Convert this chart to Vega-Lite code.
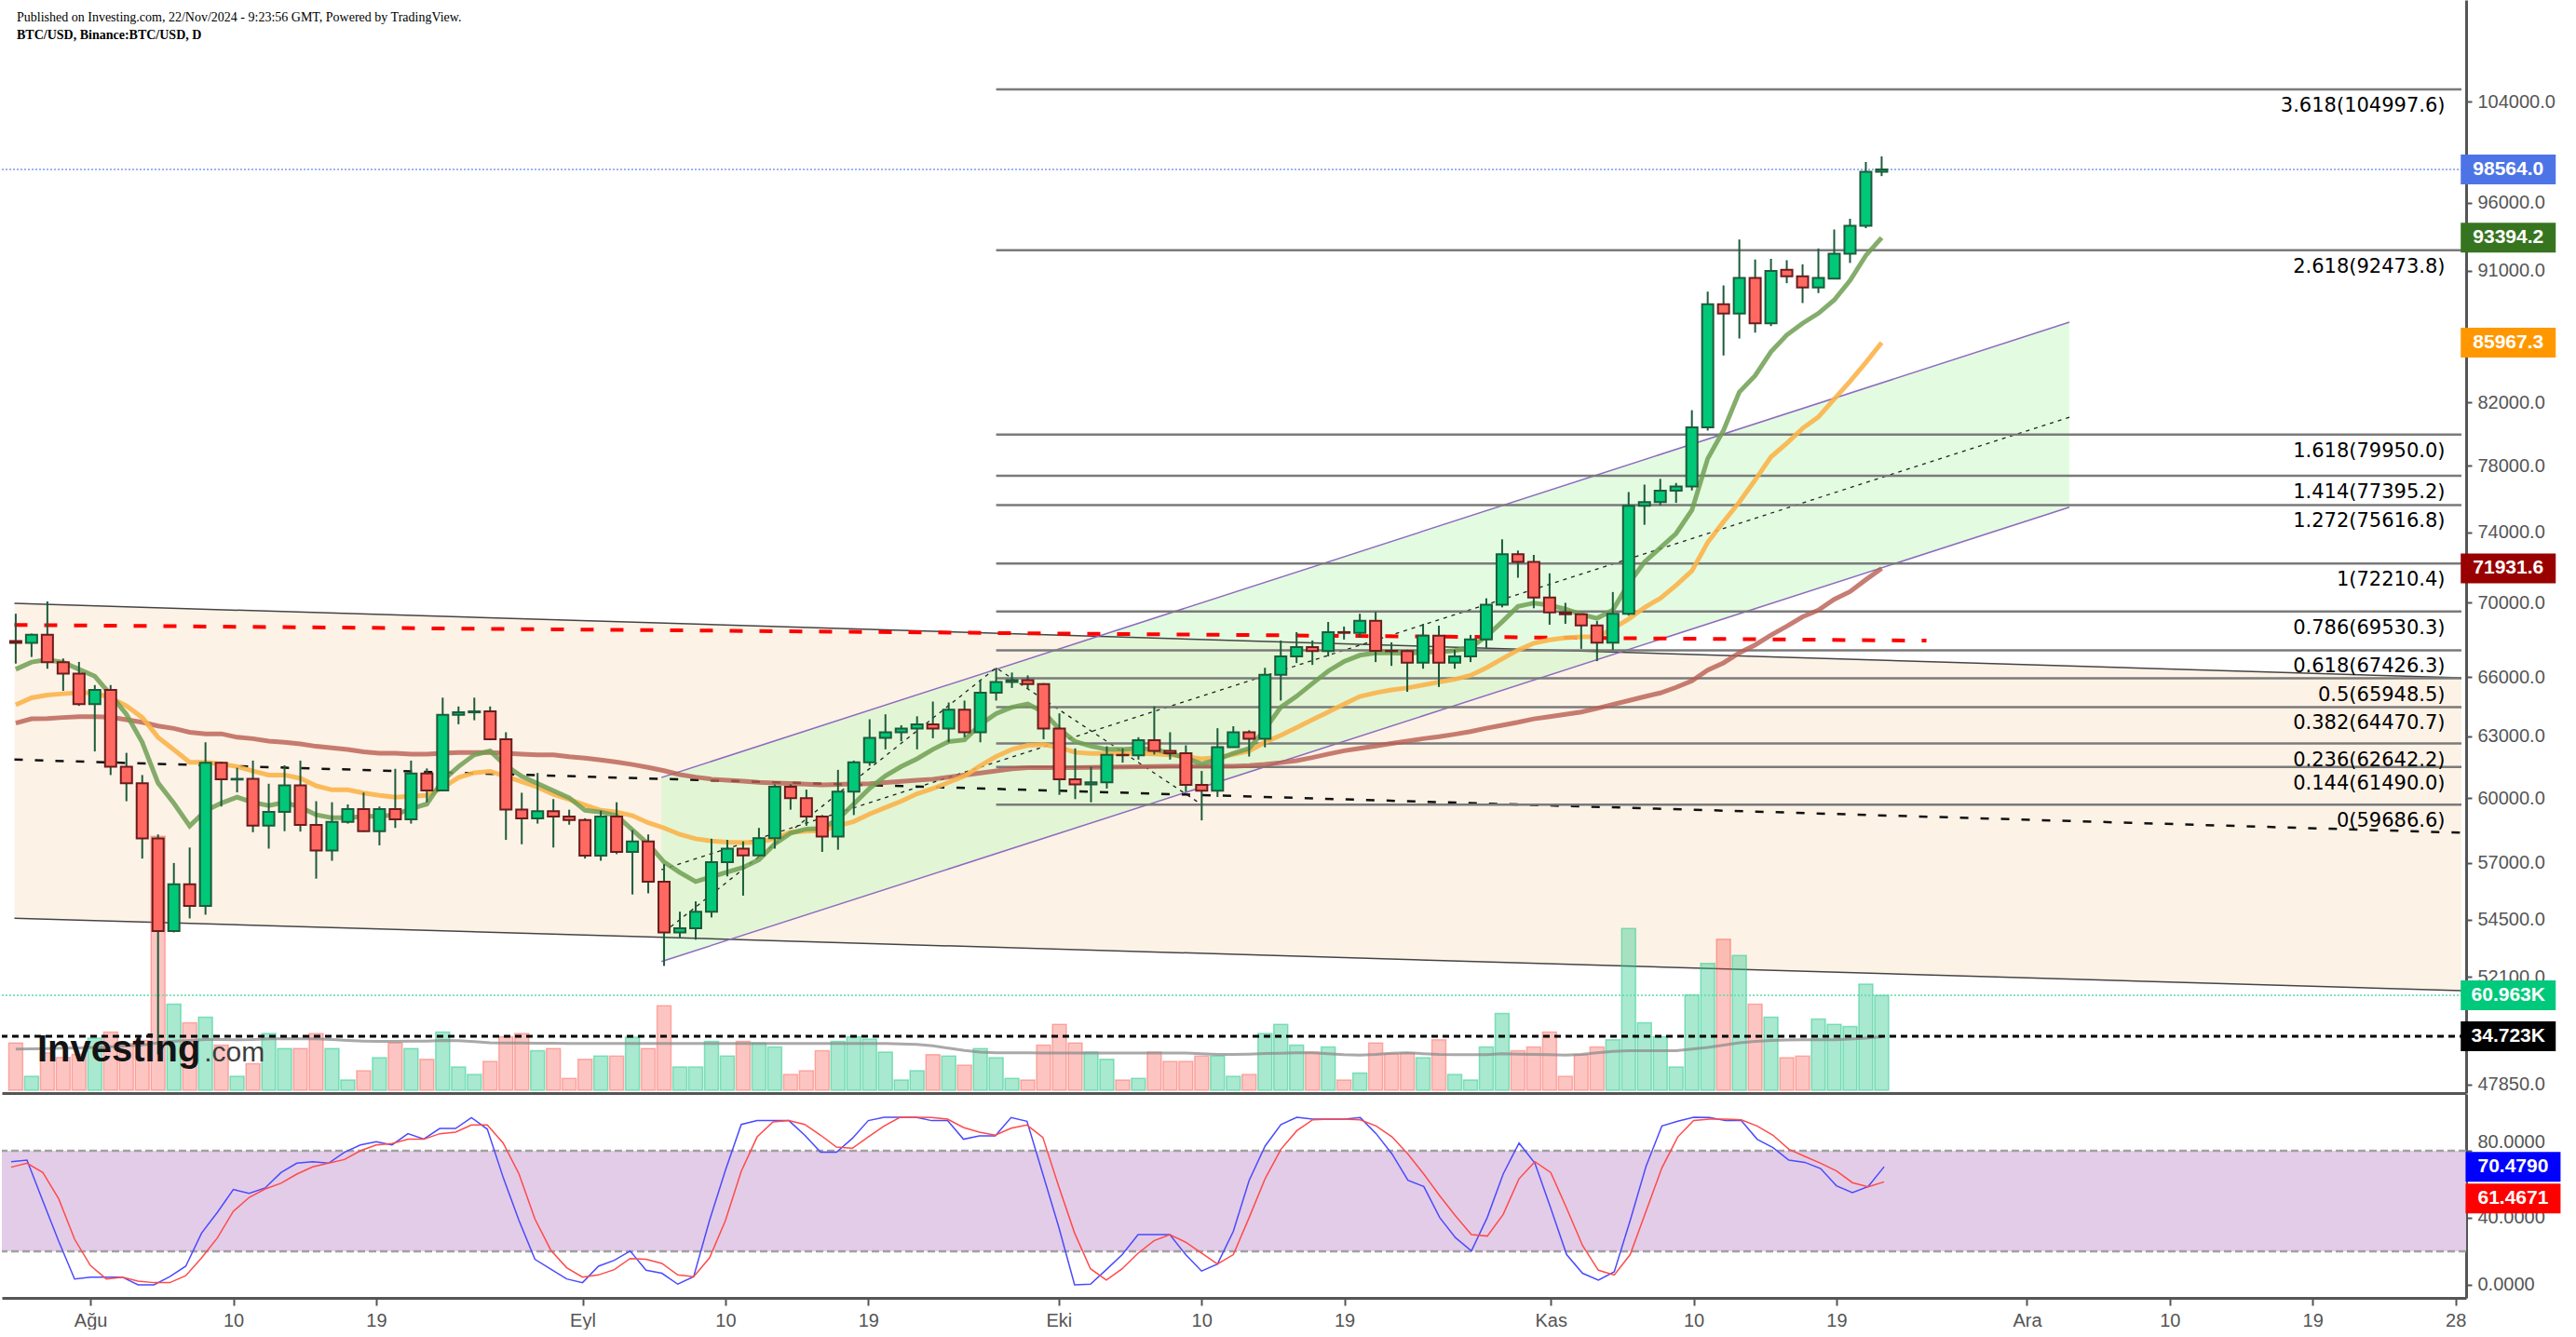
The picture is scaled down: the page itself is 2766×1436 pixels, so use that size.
{
"$schema":"https://vega.github.io/schema/vega-lite/v6.json",
"padding":0,
"background":"#ffffff",
"spacing":0,
"title":{"text":"Published on Investing.com, 22/Nov/2024 - 9:23:56 GMT, Powered by TradingView.","subtitle":"BTC/USD, Binance:BTC/USD, D","anchor":"start","frame":"group","orient":"top","offset":-45,"dx":16,"font":"Liberation Sans Narrow","fontSize":14,"fontWeight":"normal","color":"#000000","subtitleFont":"Liberation Sans Narrow","subtitleFontSize":14,"subtitleFontWeight":"bold","subtitleColor":"#000000","subtitlePadding":5},
"config":{"view":{"stroke":null},"axis":{"grid":false},"font":"Liberation Sans"},
"datasets":{
"bars":[
{"t":"2024-07-27","o":67920,"h":69400,"l":66720,"c":67820,"v":30.4,"ma1":66420,"ma2":64580,"ma3":63660,"sk":73.5,"sd":70.2,"m":26.4},
{"t":"2024-07-28","o":67820,"h":68320,"l":67070,"c":68260,"v":8.9,"ma1":66800,"ma2":64940,"ma3":63870,"sk":74.4,"sd":72.6,"m":26.6},
{"t":"2024-07-29","o":68260,"h":70080,"l":66450,"c":66790,"v":24,"ma1":66930,"ma2":65080,"ma3":63890,"sk":50,"sd":67,"m":26.8},
{"t":"2024-07-30","o":66790,"h":66990,"l":65300,"c":66200,"v":21,"ma1":66780,"ma2":65150,"ma3":63940,"sk":26,"sd":51.3,"m":27},
{"t":"2024-07-31","o":66200,"h":66810,"l":64530,"c":64620,"v":23,"ma1":66420,"ma2":65200,"ma3":63980,"sk":3.5,"sd":27.2,"m":27.2},
{"t":"2024-08-01","o":64620,"h":65600,"l":62250,"c":65350,"v":33.4,"ma1":66060,"ma2":65200,"ma3":63980,"sk":4.6,"sd":11.5,"m":27.5},
{"t":"2024-08-02","o":65350,"h":65600,"l":61100,"c":61500,"v":37.4,"ma1":65100,"ma2":64940,"ma3":63960,"sk":4.6,"sd":3.5,"m":28},
{"t":"2024-08-03","o":61500,"h":62180,"l":59850,"c":60700,"v":30,"ma1":64100,"ma2":64530,"ma3":63830,"sk":4.6,"sd":4.6,"m":28.5},
{"t":"2024-08-04","o":60700,"h":61100,"l":57200,"c":58120,"v":32,"ma1":62700,"ma2":63940,"ma3":63700,"sk":0,"sd":2.2,"m":29},
{"t":"2024-08-05","o":58120,"h":58300,"l":49000,"c":54020,"v":163,"ma1":60720,"ma2":62950,"ma3":63510,"sk":0,"sd":1.3,"m":30.5},
{"t":"2024-08-06","o":54020,"h":57000,"l":53960,"c":56050,"v":55.3,"ma1":59750,"ma2":62330,"ma3":63390,"sk":4.9,"sd":1.3,"m":31.5},
{"t":"2024-08-07","o":56050,"h":57700,"l":54560,"c":55100,"v":43.3,"ma1":58690,"ma2":61720,"ma3":63200,"sk":11.1,"sd":5.4,"m":32},
{"t":"2024-08-08","o":55100,"h":62700,"l":54720,"c":61700,"v":46.9,"ma1":59400,"ma2":61720,"ma3":63120,"sk":30.9,"sd":16.1,"m":32.5},
{"t":"2024-08-09","o":61700,"h":61750,"l":59600,"c":60900,"v":29,"ma1":59760,"ma2":61640,"ma3":63120,"sk":43.3,"sd":28.1,"m":32.5},
{"t":"2024-08-10","o":60880,"h":61450,"l":60270,"c":60920,"v":8.9,"ma1":60040,"ma2":61510,"ma3":62950,"sk":56.9,"sd":43.9,"m":32.4},
{"t":"2024-08-11","o":60920,"h":61800,"l":58400,"c":58710,"v":17.1,"ma1":59790,"ma2":61290,"ma3":62880,"sk":54.6,"sd":52.2,"m":32.5},
{"t":"2024-08-12","o":58710,"h":60680,"l":57650,"c":59350,"v":36.4,"ma1":59650,"ma2":61100,"ma3":62760,"sk":57.8,"sd":57.2,"m":33},
{"t":"2024-08-13","o":59350,"h":61570,"l":58450,"c":60600,"v":26.8,"ma1":59790,"ma2":61100,"ma3":62700,"sk":67,"sd":60.6,"m":33.2},
{"t":"2024-08-14","o":60600,"h":61800,"l":58430,"c":58740,"v":26.8,"ma1":59570,"ma2":60940,"ma3":62620,"sk":72.6,"sd":66.1,"m":33},
{"t":"2024-08-15","o":58740,"h":59850,"l":56300,"c":57560,"v":36.4,"ma1":59210,"ma2":60580,"ma3":62500,"sk":73.5,"sd":70.4,"m":33},
{"t":"2024-08-16","o":57560,"h":59800,"l":57100,"c":58880,"v":26.8,"ma1":59070,"ma2":60390,"ma3":62420,"sk":72.6,"sd":72.6,"m":32.6},
{"t":"2024-08-17","o":58880,"h":59700,"l":58800,"c":59480,"v":6.6,"ma1":59070,"ma2":60390,"ma3":62340,"sk":79.1,"sd":74.8,"m":32},
{"t":"2024-08-18","o":59480,"h":60260,"l":58420,"c":58450,"v":12.5,"ma1":59140,"ma2":60240,"ma3":62230,"sk":83.5,"sd":80,"m":31.6},
{"t":"2024-08-19","o":58450,"h":59600,"l":57800,"c":59480,"v":20.9,"ma1":59140,"ma2":60130,"ma3":62160,"sk":85.4,"sd":83.5,"m":31.4},
{"t":"2024-08-20","o":59480,"h":61400,"l":58600,"c":59000,"v":30.4,"ma1":59210,"ma2":60040,"ma3":62160,"sk":83.5,"sd":84.3,"m":31.4},
{"t":"2024-08-21","o":59000,"h":61800,"l":58800,"c":61170,"v":26.8,"ma1":59500,"ma2":60080,"ma3":62110,"sk":90.2,"sd":86.9,"m":31.6},
{"t":"2024-08-22","o":61170,"h":61420,"l":59800,"c":60360,"v":19.9,"ma1":59720,"ma2":60130,"ma3":62110,"sk":87,"sd":86.9,"m":31.6},
{"t":"2024-08-23","o":60360,"h":64950,"l":60350,"c":64080,"v":37.4,"ma1":60830,"ma2":60490,"ma3":62160,"sk":93.3,"sd":90.2,"m":32},
{"t":"2024-08-24","o":64080,"h":64500,"l":63600,"c":64200,"v":14.9,"ma1":61510,"ma2":60980,"ma3":62200,"sk":93.3,"sd":91.1,"m":31.8},
{"t":"2024-08-25","o":64200,"h":64950,"l":63800,"c":64250,"v":10.1,"ma1":62080,"ma2":61210,"ma3":62200,"sk":99.8,"sd":95.4,"m":31.2},
{"t":"2024-08-26","o":64250,"h":64500,"l":62800,"c":62850,"v":18.5,"ma1":62270,"ma2":61280,"ma3":62200,"sk":92.9,"sd":95.4,"m":30.5},
{"t":"2024-08-27","o":62850,"h":63200,"l":58050,"c":59460,"v":34.4,"ma1":61550,"ma2":61040,"ma3":62160,"sk":64.1,"sd":84.6,"m":30.4},
{"t":"2024-08-28","o":59460,"h":60250,"l":57850,"c":59040,"v":36.4,"ma1":61040,"ma2":60780,"ma3":62120,"sk":38.3,"sd":66.1,"m":30.4},
{"t":"2024-08-29","o":59040,"h":61200,"l":58800,"c":59380,"v":25.4,"ma1":60690,"ma2":60520,"ma3":62080,"sk":15.2,"sd":39.3,"m":30.2},
{"t":"2024-08-30","o":59380,"h":59950,"l":57700,"c":59130,"v":26.8,"ma1":60350,"ma2":60180,"ma3":62080,"sk":9.3,"sd":20.7,"m":30.2},
{"t":"2024-08-31","o":59130,"h":59450,"l":58750,"c":58970,"v":7.6,"ma1":60010,"ma2":59930,"ma3":61990,"sk":3.5,"sd":10.2,"m":30},
{"t":"2024-09-01","o":58970,"h":59050,"l":57200,"c":57330,"v":19.9,"ma1":59420,"ma2":59670,"ma3":61920,"sk":1.3,"sd":4.6,"m":30},
{"t":"2024-09-02","o":57330,"h":59400,"l":57100,"c":59130,"v":21.9,"ma1":59340,"ma2":59420,"ma3":61830,"sk":11.1,"sd":5.9,"m":30},
{"t":"2024-09-03","o":59130,"h":59800,"l":57400,"c":57500,"v":21.9,"ma1":59170,"ma2":59340,"ma3":61730,"sk":14.6,"sd":9.1,"m":30},
{"t":"2024-09-04","o":57500,"h":58500,"l":55600,"c":57980,"v":34,"ma1":58510,"ma2":59170,"ma3":61610,"sk":20.2,"sd":15.7,"m":30},
{"t":"2024-09-05","o":57980,"h":58300,"l":55650,"c":56160,"v":26.8,"ma1":57860,"ma2":58840,"ma3":61470,"sk":8.7,"sd":15.2,"m":30},
{"t":"2024-09-06","o":56160,"h":56950,"l":52550,"c":53960,"v":54.3,"ma1":57040,"ma2":58600,"ma3":61310,"sk":6.9,"sd":12.8,"m":30},
{"t":"2024-09-07","o":53960,"h":54850,"l":53750,"c":54140,"v":14.9,"ma1":56570,"ma2":58300,"ma3":61120,"sk":0.4,"sd":5.9,"m":30},
{"t":"2024-09-08","o":54140,"h":55300,"l":53650,"c":54850,"v":14.9,"ma1":56170,"ma2":58100,"ma3":61000,"sk":4.9,"sd":4.9,"m":30},
{"t":"2024-09-09","o":54850,"h":58100,"l":54600,"c":57040,"v":31.4,"ma1":56380,"ma2":58000,"ma3":60900,"sk":38.5,"sd":16.1,"m":30},
{"t":"2024-09-10","o":57040,"h":58050,"l":56400,"c":57650,"v":21.9,"ma1":56590,"ma2":57950,"ma3":60850,"sk":68.3,"sd":38.3,"m":30},
{"t":"2024-09-11","o":57650,"h":57980,"l":55550,"c":57340,"v":31.4,"ma1":56800,"ma2":57920,"ma3":60800,"sk":95.7,"sd":67.8,"m":30},
{"t":"2024-09-12","o":57340,"h":58600,"l":57300,"c":58130,"v":30.4,"ma1":57150,"ma2":57950,"ma3":60750,"sk":98,"sd":88.3,"m":30},
{"t":"2024-09-13","o":58130,"h":60650,"l":57650,"c":60540,"v":27.8,"ma1":57860,"ma2":58100,"ma3":60720,"sk":98,"sd":97.2,"m":30},
{"t":"2024-09-14","o":60540,"h":60650,"l":59450,"c":59990,"v":10.1,"ma1":58360,"ma2":58410,"ma3":60690,"sk":98,"sd":98,"m":30},
{"t":"2024-09-15","o":59990,"h":60400,"l":58700,"c":59130,"v":12.5,"ma1":58550,"ma2":58450,"ma3":60660,"sk":89.3,"sd":95.7,"m":30},
{"t":"2024-09-16","o":59130,"h":59200,"l":57500,"c":58200,"v":25.4,"ma1":58580,"ma2":58480,"ma3":60630,"sk":79.1,"sd":89.3,"m":30},
{"t":"2024-09-17","o":58200,"h":61350,"l":57600,"c":60300,"v":31.4,"ma1":59010,"ma2":58700,"ma3":60650,"sk":79.1,"sd":82.2,"m":30},
{"t":"2024-09-18","o":60300,"h":61800,"l":59200,"c":61720,"v":34.4,"ma1":59720,"ma2":58900,"ma3":60670,"sk":87.4,"sd":81.5,"m":30},
{"t":"2024-09-19","o":61720,"h":63850,"l":61550,"c":62920,"v":32.8,"ma1":60460,"ma2":59250,"ma3":60680,"sk":98,"sd":88.3,"m":30},
{"t":"2024-09-20","o":62920,"h":64100,"l":62350,"c":63200,"v":24.5,"ma1":61060,"ma2":59550,"ma3":60740,"sk":100,"sd":94.8,"m":30},
{"t":"2024-09-21","o":63200,"h":63550,"l":62750,"c":63380,"v":6.6,"ma1":61510,"ma2":59850,"ma3":60790,"sk":100,"sd":100,"m":29.8},
{"t":"2024-09-22","o":63380,"h":64000,"l":62350,"c":63590,"v":12.5,"ma1":61890,"ma2":60200,"ma3":60850,"sk":100,"sd":100,"m":29.5},
{"t":"2024-09-23","o":63590,"h":64750,"l":62900,"c":63380,"v":22.9,"ma1":62350,"ma2":60450,"ma3":60900,"sk":98,"sd":99.8,"m":28.5},
{"t":"2024-09-24","o":63380,"h":64700,"l":62700,"c":64330,"v":21.9,"ma1":62740,"ma2":60750,"ma3":61000,"sk":98,"sd":98.9,"m":27},
{"t":"2024-09-25","o":64330,"h":64800,"l":62950,"c":63200,"v":16.1,"ma1":62820,"ma2":61050,"ma3":61100,"sk":86.9,"sd":93.9,"m":25.5},
{"t":"2024-09-26","o":63200,"h":65850,"l":62700,"c":65200,"v":26.8,"ma1":63590,"ma2":61550,"ma3":61200,"sk":88.9,"sd":91.1,"m":24.5},
{"t":"2024-09-27","o":65200,"h":66500,"l":64800,"c":65760,"v":20.9,"ma1":64140,"ma2":62000,"ma3":61300,"sk":88.9,"sd":89.3,"m":24},
{"t":"2024-09-28","o":65760,"h":66250,"l":65450,"c":65860,"v":7.6,"ma1":64460,"ma2":62350,"ma3":61400,"sk":99.8,"sd":93.5,"m":24},
{"t":"2024-09-29","o":65860,"h":66100,"l":65400,"c":65650,"v":6.6,"ma1":64620,"ma2":62550,"ma3":61460,"sk":97.6,"sd":95.4,"m":24},
{"t":"2024-09-30","o":65650,"h":65700,"l":62850,"c":63380,"v":29,"ma1":64220,"ma2":62580,"ma3":61460,"sk":66.1,"sd":88,"m":23.9},
{"t":"2024-10-01","o":63380,"h":64150,"l":60150,"c":60900,"v":42.3,"ma1":63350,"ma2":62450,"ma3":61460,"sk":34.6,"sd":58.7,"m":23.9},
{"t":"2024-10-02","o":60900,"h":62400,"l":59950,"c":60650,"v":30.4,"ma1":62740,"ma2":62200,"ma3":61460,"sk":0,"sd":30.9,"m":23.9},
{"t":"2024-10-03","o":60650,"h":61500,"l":59800,"c":60750,"v":24.5,"ma1":62510,"ma2":62150,"ma3":61470,"sk":0.4,"sd":9.6,"m":23.9},
{"t":"2024-10-04","o":60750,"h":62500,"l":60450,"c":62080,"v":19.9,"ma1":62350,"ma2":62150,"ma3":61480,"sk":9.1,"sd":2.8,"m":23.9},
{"t":"2024-10-05","o":62080,"h":62400,"l":61700,"c":62060,"v":6.6,"ma1":62350,"ma2":62150,"ma3":61490,"sk":18,"sd":9.6,"m":23.9},
{"t":"2024-10-06","o":62060,"h":62950,"l":61850,"c":62800,"v":7.6,"ma1":62400,"ma2":62150,"ma3":61500,"sk":30,"sd":18.9,"m":23.9},
{"t":"2024-10-07","o":62800,"h":64500,"l":62100,"c":62280,"v":24.5,"ma1":62350,"ma2":62130,"ma3":61510,"sk":30,"sd":26.3,"m":23.9},
{"t":"2024-10-08","o":62280,"h":63200,"l":61850,"c":62160,"v":18.5,"ma1":62160,"ma2":62080,"ma3":61520,"sk":30,"sd":30,"m":23.9},
{"t":"2024-10-09","o":62160,"h":62550,"l":60300,"c":60630,"v":18.5,"ma1":61930,"ma2":61990,"ma3":61520,"sk":18,"sd":25.4,"m":23.9},
{"t":"2024-10-10","o":60630,"h":61300,"l":58950,"c":60350,"v":21.9,"ma1":61630,"ma2":61890,"ma3":61520,"sk":8.2,"sd":18.9,"m":23.5},
{"t":"2024-10-11","o":60350,"h":63400,"l":60050,"c":62460,"v":21.9,"ma1":61860,"ma2":61950,"ma3":61530,"sk":12.4,"sd":12.4,"m":23},
{"t":"2024-10-12","o":62460,"h":63500,"l":62450,"c":63200,"v":8.9,"ma1":62160,"ma2":62100,"ma3":61530,"sk":31.9,"sd":18,"m":23},
{"t":"2024-10-13","o":63200,"h":63300,"l":62000,"c":62870,"v":10.1,"ma1":62400,"ma2":62270,"ma3":61560,"sk":62.4,"sd":40.2,"m":23.2},
{"t":"2024-10-14","o":62870,"h":66500,"l":62450,"c":66130,"v":36.4,"ma1":63350,"ma2":62700,"ma3":61620,"sk":82.8,"sd":63.3,"m":23.6},
{"t":"2024-10-15","o":66130,"h":67950,"l":64800,"c":67100,"v":42.3,"ma1":64460,"ma2":63050,"ma3":61700,"sk":95.7,"sd":80.9,"m":23.8},
{"t":"2024-10-16","o":67100,"h":68400,"l":66750,"c":67600,"v":29,"ma1":65020,"ma2":63430,"ma3":61800,"sk":100,"sd":92,"m":24},
{"t":"2024-10-17","o":67600,"h":67950,"l":66650,"c":67380,"v":24.5,"ma1":65680,"ma2":63830,"ma3":61950,"sk":98.9,"sd":98.5,"m":24},
{"t":"2024-10-18","o":67380,"h":68950,"l":67100,"c":68400,"v":27.8,"ma1":66330,"ma2":64220,"ma3":62120,"sk":98.9,"sd":98.9,"m":23.5},
{"t":"2024-10-19","o":68400,"h":68700,"l":68000,"c":68360,"v":6.6,"ma1":66830,"ma2":64620,"ma3":62280,"sk":98.9,"sd":98.9,"m":22.8},
{"t":"2024-10-20","o":68360,"h":69400,"l":68100,"c":69020,"v":11.1,"ma1":67160,"ma2":65010,"ma3":62400,"sk":99.8,"sd":98.5,"m":22.5},
{"t":"2024-10-21","o":69020,"h":69500,"l":66800,"c":67400,"v":30.4,"ma1":67280,"ma2":65200,"ma3":62520,"sk":90.2,"sd":94.8,"m":23},
{"t":"2024-10-22","o":67400,"h":67850,"l":66600,"c":67380,"v":23.5,"ma1":67280,"ma2":65350,"ma3":62640,"sk":78.1,"sd":88.3,"m":23.8},
{"t":"2024-10-23","o":67380,"h":67450,"l":65250,"c":66770,"v":24,"ma1":67250,"ma2":65450,"ma3":62760,"sk":62.4,"sd":78.1,"m":24},
{"t":"2024-10-24","o":66770,"h":68850,"l":66450,"c":68210,"v":20.9,"ma1":67330,"ma2":65600,"ma3":62880,"sk":58.7,"sd":66.1,"m":23.5},
{"t":"2024-10-25","o":68210,"h":68750,"l":65500,"c":66770,"v":32.4,"ma1":67330,"ma2":65750,"ma3":62980,"sk":40.2,"sd":53.2,"m":23},
{"t":"2024-10-26","o":66770,"h":67450,"l":66450,"c":67100,"v":10.1,"ma1":67410,"ma2":65900,"ma3":63100,"sk":28.1,"sd":41.1,"m":22.9},
{"t":"2024-10-27","o":67100,"h":68250,"l":66800,"c":68010,"v":6.6,"ma1":67580,"ma2":66100,"ma3":63230,"sk":20.2,"sd":30,"m":22.9},
{"t":"2024-10-28","o":68010,"h":70250,"l":67550,"c":69900,"v":27.8,"ma1":68170,"ma2":66500,"ma3":63400,"sk":40.2,"sd":29.1,"m":22.8},
{"t":"2024-10-29","o":69900,"h":73600,"l":69750,"c":72740,"v":49.3,"ma1":68960,"ma2":66970,"ma3":63550,"sk":66.1,"sd":42,"m":23.5},
{"t":"2024-10-30","o":72740,"h":72950,"l":71400,"c":72300,"v":25.4,"ma1":69800,"ma2":67440,"ma3":63700,"sk":84.6,"sd":63.3,"m":23.2},
{"t":"2024-10-31","o":72300,"h":72700,"l":69700,"c":70300,"v":27.8,"ma1":69990,"ma2":67800,"ma3":63870,"sk":72.6,"sd":73.5,"m":23},
{"t":"2024-11-01","o":70300,"h":71650,"l":68800,"c":69470,"v":37.4,"ma1":69870,"ma2":67980,"ma3":63980,"sk":45.7,"sd":67,"m":22.8},
{"t":"2024-11-02","o":69470,"h":70000,"l":68850,"c":69370,"v":8.9,"ma1":69660,"ma2":68090,"ma3":64100,"sk":18,"sd":45.7,"m":22.5},
{"t":"2024-11-03","o":69370,"h":69400,"l":67500,"c":68760,"v":22.9,"ma1":69360,"ma2":68140,"ma3":64220,"sk":6.9,"sd":23.5,"m":23},
{"t":"2024-11-04","o":68760,"h":69000,"l":66850,"c":67830,"v":27.8,"ma1":69150,"ma2":68140,"ma3":64400,"sk":2.8,"sd":8.7,"m":24},
{"t":"2024-11-05","o":67830,"h":70600,"l":67450,"c":69400,"v":32.4,"ma1":69600,"ma2":68590,"ma3":64600,"sk":7.8,"sd":5.9,"m":25},
{"t":"2024-11-06","o":69400,"h":76400,"l":69300,"c":75580,"v":103.8,"ma1":71080,"ma2":69110,"ma3":64800,"sk":38.3,"sd":18,"m":25.4},
{"t":"2024-11-07","o":75580,"h":76850,"l":74450,"c":75800,"v":43.3,"ma1":72290,"ma2":69740,"ma3":65000,"sk":70.7,"sd":43.9,"m":25.4},
{"t":"2024-11-08","o":75800,"h":77200,"l":75600,"c":76480,"v":34.4,"ma1":73110,"ma2":70250,"ma3":65190,"sk":94.8,"sd":69.8,"m":25.4},
{"t":"2024-11-09","o":76480,"h":76950,"l":75750,"c":76740,"v":14.9,"ma1":73940,"ma2":70980,"ma3":65480,"sk":97.6,"sd":88.3,"m":25.4},
{"t":"2024-11-10","o":76740,"h":81500,"l":76500,"c":80410,"v":61.2,"ma1":75310,"ma2":71790,"ma3":65820,"sk":100,"sd":98.1,"m":26.5},
{"t":"2024-11-11","o":80410,"h":89500,"l":80200,"c":88610,"v":81.5,"ma1":78440,"ma2":73420,"ma3":66380,"sk":99.8,"sd":98.9,"m":27.5},
{"t":"2024-11-12","o":88610,"h":89940,"l":85100,"c":87960,"v":97,"ma1":80220,"ma2":74630,"ma3":66760,"sk":98.1,"sd":98.9,"m":29},
{"t":"2024-11-13","o":87960,"h":93260,"l":86250,"c":90470,"v":86.5,"ma1":82680,"ma2":75800,"ma3":67290,"sk":98.1,"sd":98.5,"m":30.5},
{"t":"2024-11-14","o":90470,"h":91800,"l":86650,"c":87290,"v":55.3,"ma1":83760,"ma2":77130,"ma3":67710,"sk":86.9,"sd":94.8,"m":31.4},
{"t":"2024-11-15","o":87290,"h":91850,"l":87100,"c":90980,"v":46.9,"ma1":85350,"ma2":78550,"ma3":68240,"sk":81.9,"sd":89.3,"m":32},
{"t":"2024-11-16","o":91060,"h":91750,"l":90100,"c":90600,"v":20.9,"ma1":86490,"ma2":79400,"ma3":68720,"sk":74.4,"sd":80.9,"m":32.2},
{"t":"2024-11-17","o":90600,"h":91450,"l":88700,"c":89790,"v":21.9,"ma1":87290,"ma2":80340,"ma3":69230,"sk":73.1,"sd":76.7,"m":32.4},
{"t":"2024-11-18","o":89790,"h":92600,"l":89400,"c":90470,"v":45.7,"ma1":87980,"ma2":81070,"ma3":69600,"sk":69.4,"sd":72.6,"m":32.4},
{"t":"2024-11-19","o":90420,"h":94000,"l":90400,"c":92220,"v":42.3,"ma1":88910,"ma2":82220,"ma3":70190,"sk":59.1,"sd":68,"m":32.4},
{"t":"2024-11-20","o":92220,"h":94800,"l":91550,"c":94270,"v":41,"ma1":90290,"ma2":83380,"ma3":70620,"sk":55,"sd":61,"m":32.8},
{"t":"2024-11-21","o":94270,"h":99150,"l":94100,"c":98390,"v":68.2,"ma1":92090,"ma2":84630,"ma3":71290,"sk":58.7,"sd":58.5,"m":33.5},
{"t":"2024-11-22","o":98390,"h":99590,"l":98050,"c":98564,"v":60.963,"ma1":93394.2,"ma2":85967.3,"ma3":71931.6,"sk":70.479,"sd":61.4671,"m":34.4}
],
"fib":[{"lbl":"3.618(104997.6)","p":104997.6},{"lbl":"2.618(92473.8)","p":92473.8},{"lbl":"1.618(79950.0)","p":79950},{"lbl":"1.414(77395.2)","p":77395.2},{"lbl":"1.272(75616.8)","p":75616.8},{"lbl":"1(72210.4)","p":72210.4},{"lbl":"0.786(69530.3)","p":69530.3},{"lbl":"0.618(67426.3)","p":67426.3},{"lbl":"0.5(65948.5)","p":65948.5},{"lbl":"0.382(64470.7)","p":64470.7},{"lbl":"0.236(62642.2)","p":62642.2},{"lbl":"0.144(61490.0)","p":61490},{"lbl":"0(59686.6)","p":59686.6}],
"beige":[{"t":"2024-07-26T22:00:00Z","hi":69970,"lo":54570,"mid":61850},{"t":"2024-12-28T16:00:00Z","hi":65970,"lo":51530,"mid":58380}],
"grn":[{"t":"2024-09-05T20:00:00Z","hi":60980,"lo":52730,"mid":56700},{"t":"2024-12-03T21:00:00Z","hi":87370,"lo":75490,"mid":81050}],
"reddash":[{"t":"2024-07-26T22:00:00Z","p":68790},{"t":"2024-11-24T20:00:00Z","p":67940}],
"abc":[{"t":"2024-09-06T00:00:00Z","p":53970},{"t":"2024-09-27T00:00:00Z","p":66500},{"t":"2024-10-10T00:00:00Z","p":59690}],
"pbox":[{"s":"last","val":98564,"txt":"98564.0"},{"s":"ma1","val":93394.2,"txt":"93394.2"},{"s":"ma2","val":85967.3,"txt":"85967.3"},{"s":"ma3","val":71931.6,"txt":"71931.6"}],
"vbox":[{"s":"vol","val":60.963,"txt":"60.963K"},{"s":"lvl","val":34.723,"txt":"34.723K"}],
"sbox":[{"s":"k","val":70.479,"txt":"70.4790"},{"s":"d","val":61.4671,"txt":"61.4671"}],
"sband":[{"top":80,"bot":20}],
"logo":[{"txt":"Investing","p":48728}],
"logo2":[{"txt":".com","p":48728}]
},
"vconcat":[
{"width":2646,"height":1174,
"resolve":{"scale":{"y":"independent"}},
"layer":[
{"layer":[
{"data":{"name":"beige"},"mark":{"type":"area","color":"#fdf2e6","opacity":1},"encoding":{"x":{"field":"t","type":"temporal","scale":{"type":"utc","domain":[{"year":2024,"month":7,"date":26,"hours":10,"utc":true},{"year":2024,"month":12,"date":28,"hours":16,"utc":true}]},"axis":{"title":null,"labels":false,"ticks":false,"domain":true,"domainColor":"#555555","domainWidth":3,"grid":false}},"y":{"field":"hi","type":"quantitative","scale":{"type":"log","domain":[47530,112680],"nice":false},"axis":null},"y2":{"field":"lo"}}},
{"data":{"name":"grn"},"mark":{"type":"area","color":"#c7f9c3","opacity":0.5},"encoding":{"x":{"field":"t","type":"temporal","title":null},"y":{"field":"hi","type":"quantitative","scale":{"type":"log","domain":[47530,112680],"nice":false},"axis":null},"y2":{"field":"lo"}}},
{"data":{"name":"beige"},"mark":{"type":"line","color":"#444444","strokeWidth":1.5},"encoding":{"x":{"field":"t","type":"temporal","title":null},"y":{"field":"hi","type":"quantitative","scale":{"type":"log","domain":[47530,112680],"nice":false},"axis":null}}},
{"data":{"name":"beige"},"mark":{"type":"line","color":"#444444","strokeWidth":1.5},"encoding":{"x":{"field":"t","type":"temporal","title":null},"y":{"field":"lo","type":"quantitative","scale":{"type":"log","domain":[47530,112680],"nice":false},"axis":null}}},
{"data":{"name":"grn"},"mark":{"type":"line","color":"#8e6bbf","strokeWidth":1.5},"encoding":{"x":{"field":"t","type":"temporal","title":null},"y":{"field":"hi","type":"quantitative","scale":{"type":"log","domain":[47530,112680],"nice":false},"axis":null}}},
{"data":{"name":"grn"},"mark":{"type":"line","color":"#8e6bbf","strokeWidth":1.5},"encoding":{"x":{"field":"t","type":"temporal","title":null},"y":{"field":"lo","type":"quantitative","scale":{"type":"log","domain":[47530,112680],"nice":false},"axis":null}}},
{"data":{"name":"grn"},"mark":{"type":"line","color":"#222222","strokeWidth":1.3,"strokeDash":[4,5]},"encoding":{"x":{"field":"t","type":"temporal","title":null},"y":{"field":"mid","type":"quantitative","scale":{"type":"log","domain":[47530,112680],"nice":false},"axis":null}}},
{"data":{"name":"beige"},"mark":{"type":"line","color":"#111111","strokeWidth":2.5,"strokeDash":[9,13]},"encoding":{"x":{"field":"t","type":"temporal","title":null},"y":{"field":"mid","type":"quantitative","scale":{"type":"log","domain":[47530,112680],"nice":false},"axis":null}}},
{"data":{"name":"reddash"},"mark":{"type":"line","color":"#ff0000","strokeWidth":4,"strokeDash":[14,18]},"encoding":{"x":{"field":"t","type":"temporal","title":null},"y":{"field":"p","type":"quantitative","scale":{"type":"log","domain":[47530,112680],"nice":false},"axis":null}}},
{"data":{"name":"abc"},"mark":{"type":"line","color":"#222222","strokeWidth":1.3,"strokeDash":[4,5]},"encoding":{"x":{"field":"t","type":"temporal","title":null},"y":{"field":"p","type":"quantitative","scale":{"type":"log","domain":[47530,112680],"nice":false},"axis":null}}},
{"data":{"name":"fib"},"mark":{"type":"rule","color":"#7a7a7a","strokeWidth":2.5},"encoding":{"x":{"datum":{"year":2024,"month":9,"date":27,"utc":true},"type":"temporal","title":null},"x2":{"datum":{"year":2024,"month":12,"date":28,"hours":16,"utc":true}},"y":{"field":"p","type":"quantitative","scale":{"type":"log","domain":[47530,112680],"nice":false},"axis":null}}},
{"data":{"name":"fib"},"mark":{"type":"text","align":"right","baseline":"top","dy":7,"font":"DejaVu Sans","fontSize":21,"color":"#000000"},"encoding":{"x":{"datum":{"year":2024,"month":12,"date":27,"hours":15,"minutes":20,"utc":true},"type":"temporal","title":null},"y":{"field":"p","type":"quantitative","scale":{"type":"log","domain":[47530,112680],"nice":false},"axis":null},"text":{"field":"lbl"}}},
{"data":{"name":"pbox"},"transform":[{"filter":"datum.s == 'last'"}],"mark":{"type":"rule","color":"#7e9cf0","strokeWidth":1.5,"strokeDash":[2,2]},"encoding":{"y":{"field":"val","type":"quantitative","scale":{"type":"log","domain":[47530,112680],"nice":false},"axis":null}}}
]},
{"layer":[
{"data":{"name":"bars"},"transform":[{"filter":"datum.c >= datum.o"}],"mark":{"type":"bar","width":15,"fill":"#26c98a","fillOpacity":0.4,"stroke":"#26c98a","strokeOpacity":0.5,"strokeWidth":1.5},"encoding":{"x":{"field":"t","type":"temporal","title":null},"y":{"field":"v","type":"quantitative","scale":{"domain":[-1.79,699.8],"nice":false,"zero":false},"axis":null},"y2":{"datum":0}}},
{"data":{"name":"bars"},"transform":[{"filter":"datum.c < datum.o"}],"mark":{"type":"bar","width":15,"fill":"#f85046","fillOpacity":0.33,"stroke":"#f85046","strokeOpacity":0.4,"strokeWidth":1.5},"encoding":{"x":{"field":"t","type":"temporal","title":null},"y":{"field":"v","type":"quantitative","scale":{"domain":[-1.79,699.8],"nice":false,"zero":false},"axis":null},"y2":{"datum":0}}},
{"data":{"name":"bars"},"mark":{"type":"line","color":"#8c8c8c","strokeWidth":3,"opacity":0.75},"encoding":{"x":{"field":"t","type":"temporal","title":null},"y":{"field":"m","type":"quantitative","scale":{"domain":[-1.79,699.8],"nice":false,"zero":false},"axis":null}}},
{"data":{"name":"vbox"},"transform":[{"filter":"datum.s == 'vol'"}],"mark":{"type":"rule","color":"#5fd9a5","strokeWidth":1.5,"strokeDash":[2,2]},"encoding":{"y":{"field":"val","type":"quantitative","scale":{"domain":[-1.79,699.8],"nice":false,"zero":false},"axis":null}}},
{"data":{"name":"vbox"},"transform":[{"filter":"datum.s == 'lvl'"}],"mark":{"type":"rule","color":"#000000","strokeWidth":3,"strokeDash":[7,5]},"encoding":{"y":{"field":"val","type":"quantitative","scale":{"domain":[-1.79,699.8],"nice":false,"zero":false},"axis":null}}},
{"data":{"name":"vbox"},"transform":[{"filter":"datum.s == 'vol'"}],"mark":{"type":"point","shape":"M-1,-0.3137L1,-0.3137L1,0.3137L-1,0.3137Z","size":10404,"filled":true,"opacity":1,"color":"#00c97b","strokeWidth":0},"encoding":{"x":{"datum":{"year":2024,"month":12,"date":31,"hours":15,"utc":true},"type":"temporal","title":null},"y":{"field":"val","type":"quantitative","scale":{"domain":[-1.79,699.8],"nice":false,"zero":false},"axis":null}}},
{"data":{"name":"vbox"},"transform":[{"filter":"datum.s == 'lvl'"}],"mark":{"type":"point","shape":"M-1,-0.3137L1,-0.3137L1,0.3137L-1,0.3137Z","size":10404,"filled":true,"opacity":1,"color":"#000000","strokeWidth":0},"encoding":{"x":{"datum":{"year":2024,"month":12,"date":31,"hours":15,"utc":true},"type":"temporal","title":null},"y":{"field":"val","type":"quantitative","scale":{"domain":[-1.79,699.8],"nice":false,"zero":false},"axis":null}}},
{"data":{"name":"vbox"},"mark":{"type":"text","color":"#ffffff","font":"Liberation Sans","fontSize":21,"fontWeight":"bold","align":"center","baseline":"middle"},"encoding":{"x":{"datum":{"year":2024,"month":12,"date":31,"hours":15,"utc":true},"type":"temporal","title":null},"y":{"field":"val","type":"quantitative","scale":{"domain":[-1.79,699.8],"nice":false,"zero":false},"axis":null},"text":{"field":"txt"}}}
]},
{"layer":[
{"data":{"name":"bars"},"mark":{"type":"line","color":"#b85c50","strokeWidth":5,"opacity":0.8},"encoding":{"x":{"field":"t","type":"temporal","title":null},"y":{"field":"ma3","type":"quantitative","scale":{"type":"log","domain":[47530,112680],"nice":false},"axis":{"orient":"right","title":null,"values":[47850,52100,54500,57000,60000,63000,66000,70000,74000,78000,82000,91000,96000,104000],"format":".1f","labelFontSize":20,"labelColor":"#555555","labelFont":"Liberation Sans","tickColor":"#555555","tickWidth":2,"tickSize":6,"domainColor":"#555555","domainWidth":3,"labelPadding":6,"grid":false,"labelOverlap":false,"labelFlush":false}}}},
{"data":{"name":"bars"},"mark":{"type":"line","color":"#fbb44a","strokeWidth":5,"opacity":0.9},"encoding":{"x":{"field":"t","type":"temporal","title":null},"y":{"field":"ma2","type":"quantitative","scale":{"type":"log","domain":[47530,112680],"nice":false},"title":null}}},
{"data":{"name":"bars"},"mark":{"type":"line","color":"#6e9f52","strokeWidth":5,"opacity":0.85},"encoding":{"x":{"field":"t","type":"temporal","title":null},"y":{"field":"ma1","type":"quantitative","scale":{"type":"log","domain":[47530,112680],"nice":false},"title":null}}},
{"data":{"name":"bars"},"mark":{"type":"rule","color":"#1d5b3b","strokeWidth":2},"encoding":{"x":{"field":"t","type":"temporal","title":null},"y":{"field":"l","type":"quantitative","scale":{"type":"log","domain":[47530,112680],"nice":false},"title":null},"y2":{"field":"h"}}},
{"data":{"name":"bars"},"transform":[{"filter":"datum.c >= datum.o"}],"mark":{"type":"bar","width":12,"fill":"#00c878","stroke":"#1d5b3b","strokeWidth":2},"encoding":{"x":{"field":"t","type":"temporal","title":null},"y":{"field":"o","type":"quantitative","scale":{"type":"log","domain":[47530,112680],"nice":false},"title":null},"y2":{"field":"c"}}},
{"data":{"name":"bars"},"transform":[{"filter":"datum.c < datum.o"}],"mark":{"type":"bar","width":12,"fill":"#ff6961","stroke":"#6b1c1c","strokeWidth":2},"encoding":{"x":{"field":"t","type":"temporal","title":null},"y":{"field":"o","type":"quantitative","scale":{"type":"log","domain":[47530,112680],"nice":false},"title":null},"y2":{"field":"c"}}},
{"data":{"name":"logo"},"mark":{"type":"text","align":"left","baseline":"alphabetic","font":"Liberation Sans","fontSize":40,"fontWeight":"bold","color":"#141414"},"encoding":{"x":{"datum":{"year":2024,"month":7,"date":28,"hours":8,"minutes":30,"utc":true},"type":"temporal","title":null},"y":{"field":"p","type":"quantitative","scale":{"type":"log","domain":[47530,112680],"nice":false},"title":null},"text":{"field":"txt"}}},
{"data":{"name":"logo2"},"mark":{"type":"text","align":"left","baseline":"alphabetic","font":"Liberation Sans","fontSize":30,"fontWeight":"normal","color":"#3c3c3c"},"encoding":{"x":{"datum":{"year":2024,"month":8,"date":7,"hours":22,"utc":true},"type":"temporal","title":null},"y":{"field":"p","type":"quantitative","scale":{"type":"log","domain":[47530,112680],"nice":false},"title":null},"text":{"field":"txt"}}},
{"data":{"name":"pbox"},"transform":[{"filter":"datum.s == 'last'"}],"mark":{"type":"point","shape":"M-1,-0.3137L1,-0.3137L1,0.3137L-1,0.3137Z","size":10404,"filled":true,"opacity":1,"color":"#4d74e6","strokeWidth":0},"encoding":{"x":{"datum":{"year":2024,"month":12,"date":31,"hours":15,"utc":true},"type":"temporal","title":null},"y":{"field":"val","type":"quantitative","scale":{"type":"log","domain":[47530,112680],"nice":false},"title":null}}},
{"data":{"name":"pbox"},"transform":[{"filter":"datum.s == 'ma1'"}],"mark":{"type":"point","shape":"M-1,-0.3137L1,-0.3137L1,0.3137L-1,0.3137Z","size":10404,"filled":true,"opacity":1,"color":"#37741f","strokeWidth":0},"encoding":{"x":{"datum":{"year":2024,"month":12,"date":31,"hours":15,"utc":true},"type":"temporal","title":null},"y":{"field":"val","type":"quantitative","scale":{"type":"log","domain":[47530,112680],"nice":false},"title":null}}},
{"data":{"name":"pbox"},"transform":[{"filter":"datum.s == 'ma2'"}],"mark":{"type":"point","shape":"M-1,-0.3137L1,-0.3137L1,0.3137L-1,0.3137Z","size":10404,"filled":true,"opacity":1,"color":"#ff9800","strokeWidth":0},"encoding":{"x":{"datum":{"year":2024,"month":12,"date":31,"hours":15,"utc":true},"type":"temporal","title":null},"y":{"field":"val","type":"quantitative","scale":{"type":"log","domain":[47530,112680],"nice":false},"title":null}}},
{"data":{"name":"pbox"},"transform":[{"filter":"datum.s == 'ma3'"}],"mark":{"type":"point","shape":"M-1,-0.3137L1,-0.3137L1,0.3137L-1,0.3137Z","size":10404,"filled":true,"opacity":1,"color":"#990000","strokeWidth":0},"encoding":{"x":{"datum":{"year":2024,"month":12,"date":31,"hours":15,"utc":true},"type":"temporal","title":null},"y":{"field":"val","type":"quantitative","scale":{"type":"log","domain":[47530,112680],"nice":false},"title":null}}},
{"data":{"name":"pbox"},"mark":{"type":"text","color":"#ffffff","font":"Liberation Sans","fontSize":21,"fontWeight":"bold","align":"center","baseline":"middle"},"encoding":{"x":{"datum":{"year":2024,"month":12,"date":31,"hours":15,"utc":true},"type":"temporal","title":null},"y":{"field":"val","type":"quantitative","scale":{"type":"log","domain":[47530,112680],"nice":false},"title":null},"text":{"field":"txt"}}}
]}
]},
{"width":2646,"height":219,
"layer":[
{"data":{"name":"sband"},"mark":{"type":"rect","color":"#e3cce7"},"encoding":{"x":{"datum":{"year":2024,"month":7,"date":26,"hours":10,"utc":true},"type":"temporal","scale":{"type":"utc","domain":[{"year":2024,"month":7,"date":26,"hours":10,"utc":true},{"year":2024,"month":12,"date":28,"hours":16,"utc":true}]},"title":null},"x2":{"datum":{"year":2024,"month":12,"date":28,"hours":16,"utc":true}},"y":{"field":"top","type":"quantitative","scale":{"domain":[-7.8,113.9],"nice":false,"zero":false},"title":null},"y2":{"field":"bot"}}},
{"data":{"name":"sband"},"mark":{"type":"rule","color":"#a0a0a0","strokeWidth":2.5,"strokeDash":[8,4]},"encoding":{"y":{"field":"top","type":"quantitative","scale":{"domain":[-7.8,113.9],"nice":false,"zero":false},"title":null}}},
{"data":{"name":"sband"},"mark":{"type":"rule","color":"#a0a0a0","strokeWidth":2.5,"strokeDash":[8,4]},"encoding":{"y":{"field":"bot","type":"quantitative","scale":{"domain":[-7.8,113.9],"nice":false,"zero":false},"title":null}}},
{"data":{"name":"bars"},"mark":{"type":"line","color":"#4a4aff","strokeWidth":1.5},"encoding":{"x":{"field":"t","type":"temporal","axis":{"title":null,"values":[{"year":2024,"month":8,"date":1,"utc":true},{"year":2024,"month":8,"date":10,"utc":true},{"year":2024,"month":8,"date":19,"utc":true},{"year":2024,"month":9,"date":1,"utc":true},{"year":2024,"month":9,"date":10,"utc":true},{"year":2024,"month":9,"date":19,"utc":true},{"year":2024,"month":10,"date":1,"utc":true},{"year":2024,"month":10,"date":10,"utc":true},{"year":2024,"month":10,"date":19,"utc":true},{"year":2024,"month":11,"date":1,"utc":true},{"year":2024,"month":11,"date":10,"utc":true},{"year":2024,"month":11,"date":19,"utc":true},{"year":2024,"month":12,"date":1,"utc":true},{"year":2024,"month":12,"date":10,"utc":true},{"year":2024,"month":12,"date":19,"utc":true},{"year":2024,"month":12,"date":28,"utc":true}],"labelExpr":"utcdate(datum.value) == 1 ? ['Oca','Şub','Mar','Nis','May','Haz','Tem','Ağu','Eyl','Eki','Kas','Ara'][utcmonth(datum.value)] : '' + utcdate(datum.value)","labelFontSize":20,"labelColor":"#555555","labelFont":"Liberation Sans","labelOverlap":false,"labelFlush":false,"tickColor":"#555555","tickWidth":2,"tickSize":8,"domainColor":"#555555","domainWidth":3,"labelPadding":6,"grid":false}},"y":{"field":"sk","type":"quantitative","scale":{"domain":[-7.8,113.9],"nice":false,"zero":false},"axis":{"orient":"right","title":null,"values":[0,40,80],"format":".4f","labelFontSize":20,"labelColor":"#555555","labelFont":"Liberation Sans","labelOffset":{"condition":{"test":"datum.value == 80","value":-10},"value":0},"tickColor":"#555555","tickWidth":2,"tickSize":6,"domainColor":"#555555","domainWidth":3,"labelPadding":6,"grid":false,"labelOverlap":false,"labelFlush":false}}}},
{"data":{"name":"bars"},"mark":{"type":"line","color":"#ff4a4a","strokeWidth":1.5},"encoding":{"x":{"field":"t","type":"temporal","title":null},"y":{"field":"sd","type":"quantitative","scale":{"domain":[-7.8,113.9],"nice":false,"zero":false},"title":null}}},
{"data":{"name":"sbox"},"transform":[{"filter":"datum.s == 'k'"}],"mark":{"type":"point","shape":"M-1,-0.3137L1,-0.3137L1,0.3137L-1,0.3137Z","size":10404,"filled":true,"opacity":1,"color":"#0000ff","strokeWidth":0},"encoding":{"x":{"datum":{"year":2024,"month":12,"date":31,"hours":15,"utc":true},"type":"temporal","title":null},"y":{"field":"val","type":"quantitative","scale":{"domain":[-7.8,113.9],"nice":false,"zero":false},"title":null}}},
{"data":{"name":"sbox"},"transform":[{"filter":"datum.s == 'd'"}],"mark":{"type":"point","shape":"M-1,-0.3137L1,-0.3137L1,0.3137L-1,0.3137Z","size":10404,"filled":true,"opacity":1,"color":"#ff0000","strokeWidth":0,"yOffset":18},"encoding":{"x":{"datum":{"year":2024,"month":12,"date":31,"hours":15,"utc":true},"type":"temporal","title":null},"y":{"field":"val","type":"quantitative","scale":{"domain":[-7.8,113.9],"nice":false,"zero":false},"title":null}}},
{"data":{"name":"sbox"},"transform":[{"filter":"datum.s == 'k'"}],"mark":{"type":"text","color":"#ffffff","font":"Liberation Sans","fontSize":21,"fontWeight":"bold","align":"center","baseline":"middle"},"encoding":{"x":{"datum":{"year":2024,"month":12,"date":31,"hours":15,"utc":true},"type":"temporal","title":null},"y":{"field":"val","type":"quantitative","scale":{"domain":[-7.8,113.9],"nice":false,"zero":false},"title":null},"text":{"field":"txt"}}},
{"data":{"name":"sbox"},"transform":[{"filter":"datum.s == 'd'"}],"mark":{"type":"text","color":"#ffffff","font":"Liberation Sans","fontSize":21,"fontWeight":"bold","align":"center","baseline":"middle","dy":18},"encoding":{"x":{"datum":{"year":2024,"month":12,"date":31,"hours":15,"utc":true},"type":"temporal","title":null},"y":{"field":"val","type":"quantitative","scale":{"domain":[-7.8,113.9],"nice":false,"zero":false},"title":null},"text":{"field":"txt"}}}
]}
]
}
